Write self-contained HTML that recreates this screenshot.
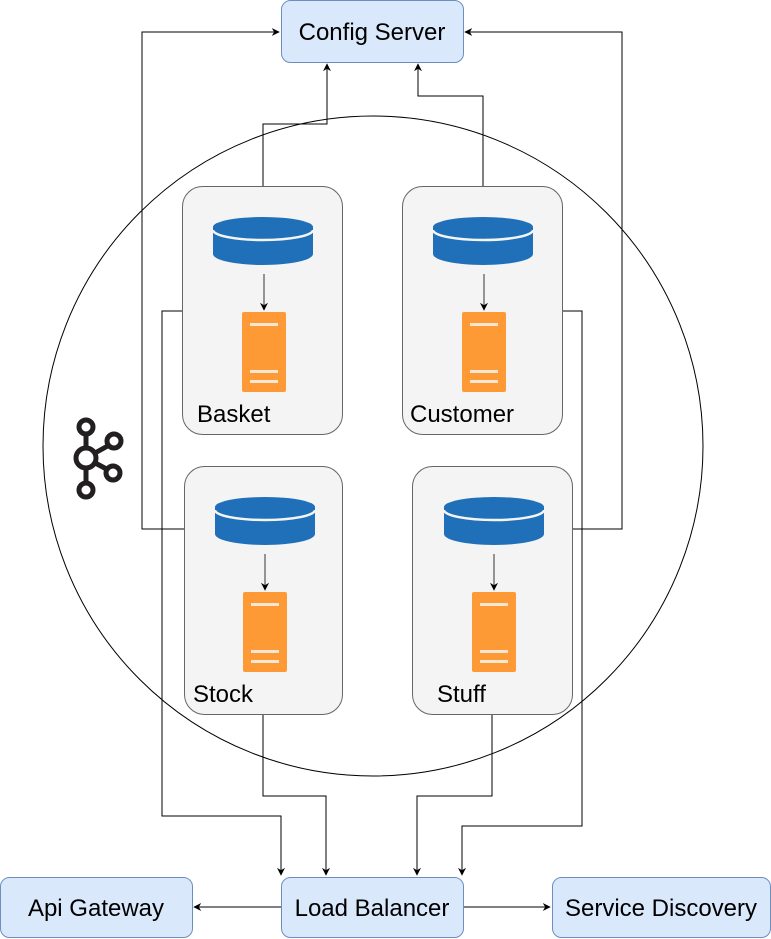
<!DOCTYPE html>
<html><head><meta charset="utf-8"><style>
html,body{margin:0;padding:0;background:#fff}
svg{display:block}
text{font-family:"Liberation Sans",Arial,sans-serif;fill:#000}
</style></head><body>
<svg width="771" height="939" viewBox="0 0 771 939" xmlns="http://www.w3.org/2000/svg">
<defs>
<marker id="a" viewBox="0 0 10 10" refX="9" refY="5" markerWidth="8" markerHeight="8" orient="auto-start-reverse" markerUnits="userSpaceOnUse"><path d="M0,0 L10,5 L0,10 L3,5 z" fill="#000"/></marker>
<g id="db">
<path d="M-50,9 L-50,36 A50,11 0 0 0 50,36 L50,9 Z" fill="#1f70b8"/>
<ellipse cx="0" cy="9" rx="50" ry="10" fill="#1f70b8"/>
<path d="M-50,12 A50,10 0 0 0 50,12" fill="none" stroke="#f4f4f4" stroke-width="2.5"/>
</g>
<g id="srv">
<rect x="-22" y="0" width="44" height="80" rx="2" fill="#fe9a35"/>
<rect x="-14" y="11" width="28" height="3" fill="#f6e6d4"/>
<rect x="-14" y="58" width="28" height="3" fill="#f6e6d4"/>
<rect x="-14" y="68" width="28" height="3" fill="#f6e6d4"/>
</g>
</defs>

<ellipse cx="373" cy="446" rx="330" ry="330" fill="none" stroke="#000" stroke-width="1"/>

<g fill="none" stroke="#000" stroke-width="1">
<polyline points="263,186 263,124 327,124 327,64" marker-end="url(#a)"/>
<polyline points="483,186 483,96 418,96 418,64" marker-end="url(#a)"/>
<polyline points="184,529 142,529 142,32 279,32" marker-end="url(#a)"/>
<polyline points="572,529 622,529 622,32 465,32" marker-end="url(#a)"/>
<polyline points="182,311 162,311 162,816 281,816 281,875" marker-end="url(#a)"/>
<polyline points="263,715 263,796 326,796 326,875" marker-end="url(#a)"/>
<polyline points="492,715 492,796 417,796 417,875" marker-end="url(#a)"/>
<polyline points="562,311 582,311 582,826 462,826 462,875" marker-end="url(#a)"/>
<line x1="281" y1="907" x2="194" y2="907" marker-end="url(#a)"/>
<line x1="463" y1="907" x2="550" y2="907" marker-end="url(#a)"/>
</g>

<g stroke="#666" fill="#f4f4f4">
<rect x="182.5" y="186.5" width="160" height="248" rx="20"/>
<rect x="402.5" y="186.5" width="160" height="248" rx="20"/>
<rect x="184.5" y="466.5" width="158" height="248" rx="20"/>
<rect x="412.5" y="466.5" width="160" height="248" rx="20"/>
</g>

<use href="#db" x="263" y="218"/><use href="#srv" x="264" y="312"/>
<use href="#db" x="483" y="218"/><use href="#srv" x="484" y="312"/>
<use href="#db" x="265" y="498"/><use href="#srv" x="265" y="592"/>
<use href="#db" x="494" y="498"/><use href="#srv" x="494" y="592"/>
<g stroke="#333" stroke-width="1" fill="none">
<line x1="264" y1="274" x2="264" y2="310" marker-end="url(#a)"/>
<line x1="484" y1="274" x2="484" y2="310" marker-end="url(#a)"/>
<line x1="265" y1="554" x2="265" y2="590" marker-end="url(#a)"/>
<line x1="494" y1="554" x2="494" y2="590" marker-end="url(#a)"/>
</g>
<g font-size="24">
<text x="197" y="422">Basket</text>
<text x="410" y="422">Customer</text>
<text x="193" y="702">Stock</text>
<text x="437" y="702">Stuff</text>
</g>

<g fill="#dae8fc" stroke="#6c8ebf">
<rect x="281.5" y="0.5" width="182" height="62" rx="9"/>
<rect x="281.5" y="877.5" width="182" height="60" rx="9"/>
<rect x="0.5" y="877.5" width="192" height="60" rx="9"/>
<rect x="552.5" y="877.5" width="218" height="60" rx="9"/>
</g>
<g font-size="24" text-anchor="middle">
<text x="372" y="40">Config Server</text>
<text x="372" y="916">Load Balancer</text>
<text x="96" y="916">Api Gateway</text>
<text x="661" y="916">Service Discovery</text>
</g>

<g stroke="#231f20" stroke-width="5" fill="none">
<line x1="86" y1="434" x2="86" y2="486"/>
<line x1="86" y1="458" x2="113" y2="443"/>
<line x1="86" y1="458" x2="112" y2="472"/>
<circle cx="86" cy="427" r="7" fill="#fff"/>
<circle cx="86" cy="458" r="10" fill="#fff"/>
<circle cx="86" cy="490" r="7" fill="#fff"/>
<circle cx="114" cy="441" r="7" fill="#fff"/>
<circle cx="113" cy="473" r="7" fill="#fff"/>
</g>
</svg>
</body></html>
